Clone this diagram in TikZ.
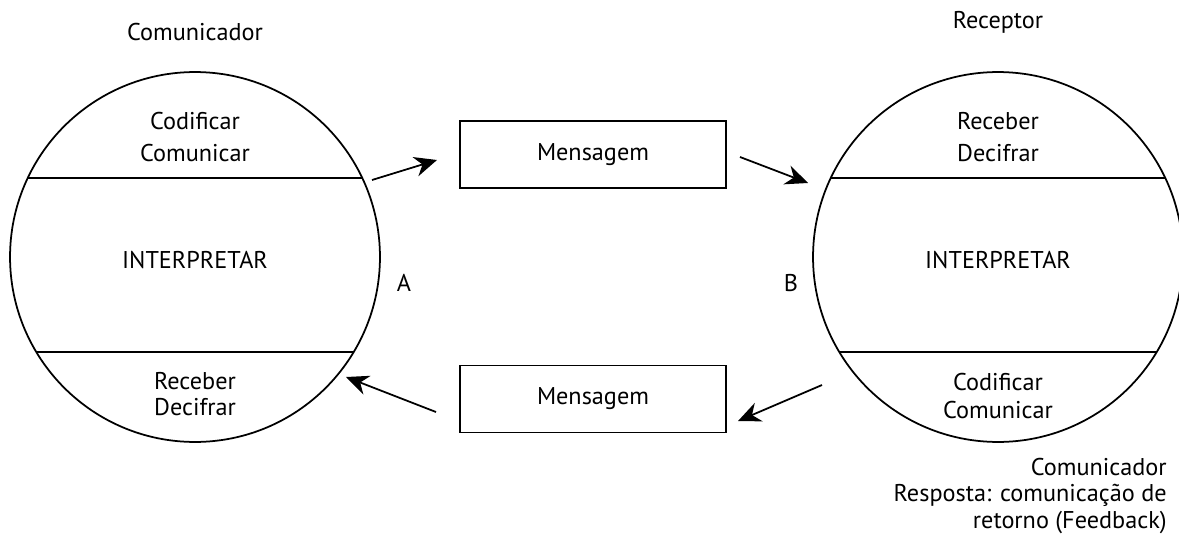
\documentclass[tikz,border=0pt]{standalone}
\usepackage{fontspec}
\setmainfont{PT Sans}
\usetikzlibrary{arrows.meta, positioning}

\begin{document}
\begin{tikzpicture}[
						x=0.02cm, y=-0.02cm,
						font=\fontsize{13.8}{15.3}\selectfont,
						party/.style = {draw, circle, line width=1pt, minimum size=7.4cm, inner sep=0pt, outer sep=0pt},
						msgbox/.style = {draw, rectangle, line width=1pt, minimum width=5.32cm, minimum height=1.34cm},
						txt/.style = {align=center, inner sep=0pt},
						flow/.style = {-{Stealth[length=4.5mm, width=4mm]}, line width=1pt},
					]
\useasboundingbox (0,0) rectangle (1179,544);

\node[party] (A) at (195,257) {};
\node[party] (B) at (998,257) {};

% chords of the two circles
\draw[line width=1pt] ([shift={(-167.3,-79)}]A.center) -- ([shift={(167.3,-79)}]A.center);
\draw[line width=1pt] ([shift={(-158.7,95)}]A.center) -- ([shift={(158.7,95)}]A.center);
\draw[line width=1pt] ([shift={(-167.3,-79)}]B.center) -- ([shift={(167.3,-79)}]B.center);
\draw[line width=1pt] ([shift={(-158.7,95)}]B.center) -- ([shift={(158.7,95)}]B.center);

\node[txt] (t1) at (195,32) {Comunicador};
\node[txt] (t2) at (998,22) {Receptor};

\node[txt] (a1) at (195,137) {Codificar\\[3pt]Comunicar};
\node[txt] (a2) at (195,260) {INTERPRETAR};
\node[txt] (a3) at (195,394) {Receber\\Decifrar};
\node[txt] (b1) at (998,137) {Receber\\[3pt]Decifrar};
\node[txt] (b2) at (998,260) {INTERPRETAR};
\node[txt] (b3) at (998,396) {Codificar\\[1pt]Comunicar};

\node[txt] (la) at (404,283) {A};
\node[txt] (lb) at (791,283) {B};

\node[msgbox] (m1) at (593,154.5) {Mensagem};
\node[msgbox] (m2) at (593,399) {Mensagem};

\node[txt, align=right, anchor=east] (fb) at (1167,496) {Comunicador\\Resposta: comunicação de\\retorno (Feedback)};

\coordinate (s1) at (372,180);
\coordinate (e1) at (437,160);
\coordinate (s2) at (740,157);
\coordinate (e2) at (808,183);
\coordinate (s3) at (822,385);
\coordinate (e3) at (738,421);
\coordinate (s4) at (436,412);
\coordinate (e4) at (346,377);

\draw[flow] (s1) -- (e1);
\draw[flow] (s2) -- (e2);
\draw[flow] (s3) -- (e3);
\draw[flow] (s4) -- (e4);

\end{tikzpicture}
\end{document}
